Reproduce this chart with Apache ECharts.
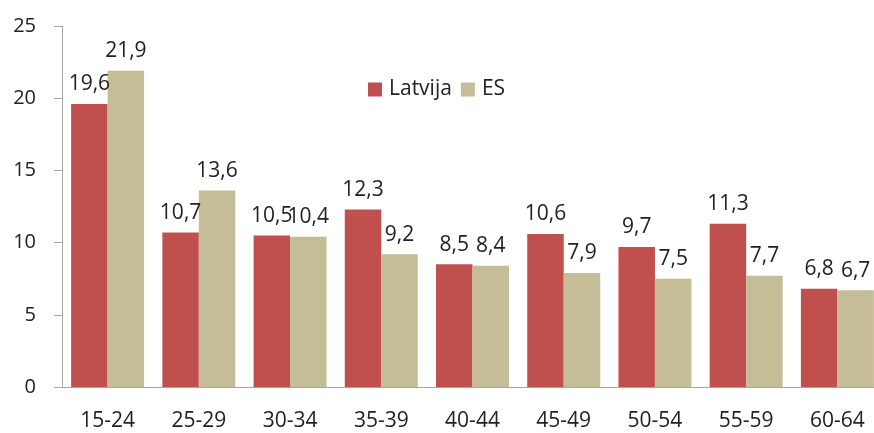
<!DOCTYPE html>
<html>
<head>
    <meta charset="utf-8">
    <title>Latvija ES</title>
    <script src="https://cdn.jsdelivr.net/npm/echarts@6/dist/echarts.min.js"></script>
</head>
<body style="margin:0">
    <div id="main" style="width: 874px;height:433px;"></div>
    <script type="text/javascript">
        // vecuma grupas
        var categories = ['15-24', '25-29', '30-34', '35-39', '40-44', '45-49', '50-54', '55-59', '60-64'];
        var latvija = [19.6, 10.7, 10.5, 12.3, 8.5, 10.6, 9.7, 11.3, 6.8];
        var es = [21.9, 13.6, 10.4, 9.2, 8.4, 7.9, 7.5, 7.7, 6.7];
        var yTicks = [0, 5, 10, 15, 20, 25];

        var font = '"Open Sans", "Noto Sans", sans-serif';
        var myChart = echarts.init(document.getElementById('main'));

        var label = {
            show: true,
            position: 'top',
            distance: 9,
            color: '#222',
            fontSize: 21,
            fontFamily: font,
            formatter: function (p) {
                return String(p.value).replace('.', ',');
            }
        };

        var option = {
            animation: false,
            legend: {
                left: 363,
                top: 74,
                icon: 'rect',
                itemWidth: 14,
                itemHeight: 14,
                itemGap: 9,
                textStyle: { fontSize: 21, fontFamily: font, color: '#222', padding: [0, 0, 0, 2] },
                data: ['Latvija', 'ES']
            },
            grid: {
                left: 62,
                top: 26,
                width: 821,
                height: 361,
                // plot runs a bit past the right edge, like the original
                outerBoundsMode: 'none'
            },
            xAxis: {
                type: 'category',
                data: categories,
                axisLine: { lineStyle: { color: '#A6A6A6' } },
                axisTick: { length: 8, lineStyle: { color: '#A6A6A6' } },
                axisLabel: { margin: 24, fontSize: 21, fontFamily: font, color: '#222' }
            },
            yAxis: {
                type: 'value',
                min: yTicks[0],
                max: yTicks[yTicks.length - 1],
                interval: 5,
                splitLine: { show: false },
                axisLine: { show: true, lineStyle: { color: '#A6A6A6' } },
                axisTick: { show: true, length: 8, lineStyle: { color: '#A6A6A6' } },
                axisLabel: { margin: 26, fontSize: 20, fontFamily: font, color: '#222' }
            },
            series: [
                {
                    name: 'Latvija',
                    type: 'bar',
                    barGap: '0%',
                    barCategoryGap: '20%',
                    itemStyle: { color: '#C0504D' },
                    label: label,
                    data: latvija
                },
                {
                    name: 'ES',
                    type: 'bar',
                    itemStyle: { color: '#C4BD97' },
                    label: label,
                    data: es
                }
            ]
        };
        myChart.setOption(option);
    </script>
</body>
</html>
